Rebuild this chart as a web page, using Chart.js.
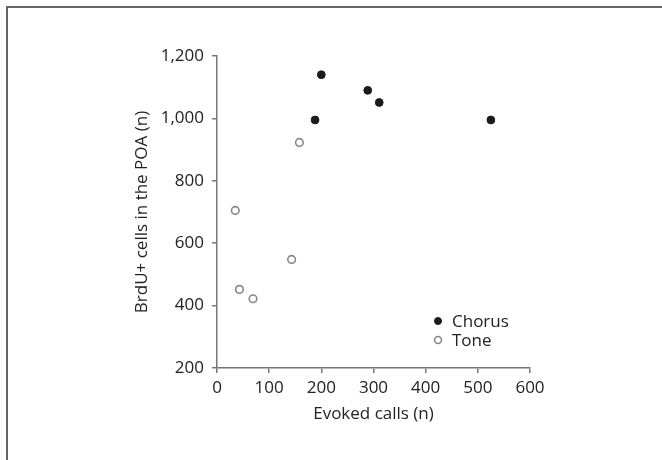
<!DOCTYPE html>
<html>
<head>
<meta charset="utf-8">
<script src="https://cdn.jsdelivr.net/npm/chart.js@4.4.1/dist/chart.umd.min.js"></script>
<style>
  html, body { margin: 0; padding: 0; background: #fff; }
  #wrap { position: relative; width: 662px; height: 460px; }
  #frame { position: absolute; left: 6px; top: 6px; right: 0; bottom: 0;
           border-left: 2px solid #666; border-top: 2px solid #666; }
</style>
</head>
<body>
<div id="wrap">
  <div id="frame"></div>
  <canvas id="chart" width="662" height="460"></canvas>
</div>
<script>
// Chorus group: evoked calls vs BrdU+ cells
const chorusCalls = [200, 289, 311, 188, 525];
const chorusCells = [1140, 1090, 1051, 995, 995];

// Tone group
const toneCalls = [158, 35, 43, 69, 143];
const toneCells = [923, 705, 452, 422, 548];

const xTicks = [0, 100, 200, 300, 400, 500, 600];
const yTicks = [200, 400, 600, 800, 1000, 1200];

const fontFamily = '"Open Sans", "Noto Sans", sans-serif';
const axisColor = '#777';
const textColor = '#222';

function toPoints(xs, ys) {
    return xs.map((x, i) => ({ x: x, y: ys[i] }));
}

// small legend drawn in the lower right of the plot area
const legendPlugin = {
    id: 'cornerLegend',
    afterDatasetsDraw(chart) {
        const ctx = chart.ctx;
        const area = chart.chartArea;
        const items = chart.data.datasets;
        const x0 = area.right - 92;
        const y0 = area.bottom - 47;
        ctx.save();
        ctx.font = '17px ' + fontFamily;
        ctx.textBaseline = 'middle';
        items.forEach((ds, i) => {
            const y = y0 + i * 19;
            ctx.beginPath();
            ctx.arc(x0, y, 3.5, 0, Math.PI * 2);
            ctx.fillStyle = ds.backgroundColor;
            ctx.fill();
            ctx.lineWidth = ds.borderWidth;
            ctx.strokeStyle = ds.borderColor;
            ctx.stroke();
            ctx.fillStyle = textColor;
            ctx.fillText(ds.label, x0 + 14, y + 1);
        });
        ctx.restore();
    }
};

new Chart(document.getElementById('chart'), {
    type: 'scatter',
    data: {
        datasets: [
            {
                label: 'Chorus',
                data: toPoints(chorusCalls, chorusCells),
                backgroundColor: '#1b1b1b',
                borderColor: '#1b1b1b',
                borderWidth: 1,
                pointRadius: 3.9
            },
            {
                label: 'Tone',
                data: toPoints(toneCalls, toneCells),
                backgroundColor: '#ffffff',
                borderColor: '#888888',
                borderWidth: 1.6,
                pointRadius: 3.8
            }
        ]
    },
    options: {
        responsive: false,
        animation: false,
        layout: { padding: { left: 130, right: 132, top: 56, bottom: 32 } },
        plugins: {
            legend: { display: false },
            tooltip: { enabled: false }
        },
        scales: {
            x: {
                type: 'linear',
                min: 0,
                max: 600,
                afterBuildTicks: scale => { scale.ticks = xTicks.map(v => ({ value: v })); },
                afterFit: scale => { scale.height = 60; },
                border: { color: axisColor, width: 1.5 },
                grid: { drawOnChartArea: false, drawTicks: true, tickLength: 5, color: axisColor, lineWidth: 1.5 },
                ticks: { color: textColor, font: { family: fontFamily, size: 17 }, padding: 5 },
                title: { display: true, text: 'Evoked calls (n)', color: textColor,
                         font: { family: fontFamily, size: 17 }, padding: { top: 4, bottom: 4 } }
            },
            y: {
                type: 'linear',
                min: 200,
                max: 1200,
                afterBuildTicks: scale => { scale.ticks = yTicks.map(v => ({ value: v })); },
                afterFit: scale => { scale.width = 87; },
                border: { color: axisColor, width: 1.5 },
                grid: { drawOnChartArea: false, drawTicks: true, tickLength: 5, color: axisColor, lineWidth: 1.5 },
                ticks: { color: textColor, font: { family: fontFamily, size: 17 }, padding: 8,
                         callback: v => v.toLocaleString('en-US') },
                title: { display: true, text: 'BrdU+ cells in the POA (n)', color: textColor,
                         font: { family: fontFamily, size: 17 }, padding: { top: 2, bottom: 4 } }
            }
        }
    },
    plugins: [legendPlugin]
});
</script>
</body>
</html>
